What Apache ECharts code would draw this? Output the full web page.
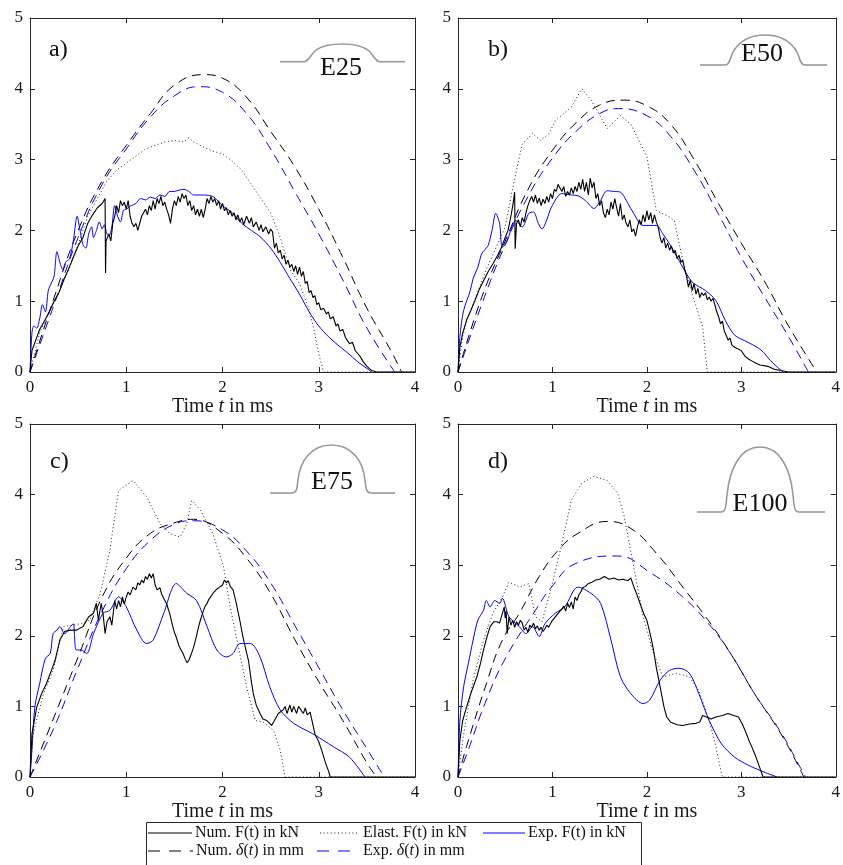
<!DOCTYPE html>
<html><head><meta charset="utf-8">
<script src="https://cdn.jsdelivr.net/npm/echarts@6/dist/echarts.min.js"></script>
<style>html,body{margin:0;padding:0;background:#fff}#c{width:843px;height:865px}</style>
</head><body><div id="c"></div>
<script>
// ---------- DATA (t in ms, value) ----------
const xTicks = [0, 1, 2, 3, 4];
const yTicks = [0, 1, 2, 3, 4, 5];
const panelLabels = ['a)', 'b)', 'c)', 'd)'];
const shapeLabels = ['E25', 'E50', 'E75', 'E100'];
const seriesNames = ['Num. F(t) in kN', 'Elast. F(t) in kN', 'Exp. F(t) in kN', 'Num. δ(t) in mm', 'Exp. δ(t) in mm'];

// Panel a) E25
const aNumF = [[0,0],[0.02,0.3],[0.06,0.45],[0.1,0.6],[0.15,0.72],[0.2,0.85],[0.25,1.0],[0.3,1.12],[0.35,1.3],[0.4,1.45],[0.45,1.62],[0.5,1.78],[0.55,1.9],[0.6,2.1],[0.65,2.22],[0.7,2.32],[0.75,2.38],[0.78,2.45],[0.785,1.4],[0.79,1.85],[0.82,1.95],[0.84,1.85],[0.86,2.1],[0.88,2.2],[0.9,2.35],[0.92,2.25],[0.94,2.42],[0.96,2.35],[0.98,2.4],[1.0,2.3],[1.02,2.42],[1.04,2.2],[1.06,2.1],[1.08,2.05],[1.1,2.1],[1.12,2.0],[1.14,2.02],[1.16,2.2],[1.18,2.25],[1.2,2.3],[1.22,2.22],[1.24,2.35],[1.26,2.28],[1.28,2.42],[1.3,2.3],[1.32,2.45],[1.34,2.38],[1.36,2.48],[1.38,2.35],[1.4,2.4],[1.42,2.3],[1.44,2.22],[1.46,2.1],[1.48,2.3],[1.5,2.42],[1.52,2.35],[1.54,2.48],[1.56,2.4],[1.58,2.52],[1.6,2.45],[1.62,2.5],[1.64,2.35],[1.66,2.42],[1.68,2.28],[1.7,2.35],[1.72,2.22],[1.74,2.3],[1.76,2.2],[1.78,2.3],[1.8,2.18],[1.82,2.3],[1.84,2.45],[1.86,2.38],[1.88,2.48],[1.9,2.4],[1.92,2.45],[1.94,2.35],[1.96,2.42],[1.98,2.3],[2.0,2.38],[2.02,2.28],[2.04,2.32],[2.06,2.22],[2.08,2.28],[2.1,2.2],[2.12,2.25],[2.14,2.15],[2.16,2.22],[2.18,2.12],[2.2,2.18],[2.22,2.08],[2.25,2.2],[2.28,2.1],[2.3,2.18],[2.32,2.05],[2.35,2.12],[2.38,2.0],[2.4,2.08],[2.42,1.98],[2.45,2.05],[2.48,1.95],[2.5,2.02],[2.52,1.98],[2.54,1.75],[2.56,1.82],[2.58,1.68],[2.6,1.72],[2.62,1.6],[2.64,1.65],[2.66,1.52],[2.68,1.58],[2.7,1.48],[2.72,1.52],[2.74,1.42],[2.76,1.5],[2.78,1.38],[2.8,1.48],[2.82,1.35],[2.84,1.42],[2.86,1.25],[2.88,1.28],[2.9,1.12],[2.92,1.15],[2.94,1.05],[2.96,1.08],[2.98,0.95],[3.0,0.98],[3.02,0.88],[3.05,0.9],[3.08,0.82],[3.1,0.85],[3.12,0.75],[3.15,0.78],[3.18,0.65],[3.2,0.68],[3.22,0.58],[3.25,0.6],[3.28,0.48],[3.3,0.5],[3.32,0.4],[3.35,0.42],[3.38,0.3],[3.4,0.32],[3.43,0.22],[3.46,0.15],[3.5,0.08],[3.55,0.02],[3.6,0],[4,0]];
const aElast = [[0,0],[0.1,0.55],[0.2,0.85],[0.3,1.12],[0.4,1.45],[0.5,1.8],[0.6,2.2],[0.7,2.45],[0.8,2.7],[0.9,2.85],[1.0,2.95],[1.1,3.05],[1.2,3.15],[1.3,3.2],[1.4,3.25],[1.5,3.27],[1.6,3.25],[1.65,3.31],[1.7,3.25],[1.8,3.18],[1.9,3.12],[2.0,3.08],[2.1,2.98],[2.2,2.85],[2.3,2.65],[2.4,2.45],[2.5,2.25],[2.6,1.9],[2.7,1.45],[2.8,1.25],[2.9,0.88],[2.95,0.6],[3.0,0.25],[3.05,0],[4,0]];
const aExpF = [[0,0],[0.02,0.55],[0.04,0.65],[0.07,0.62],[0.1,0.75],[0.13,0.95],[0.16,0.85],[0.19,1.15],[0.22,1.25],[0.25,1.35],[0.28,1.7],[0.31,1.55],[0.34,1.45],[0.37,1.55],[0.41,1.6],[0.45,1.85],[0.49,2.2],[0.52,2.0],[0.55,1.8],[0.58,1.75],[0.61,1.95],[0.64,2.05],[0.66,1.9],[0.69,2.0],[0.72,2.12],[0.75,2.02],[0.77,2.08],[0.8,1.95],[0.82,1.92],[0.85,2.05],[0.88,2.35],[0.91,2.2],[0.94,2.12],[0.97,2.28],[1.0,2.3],[1.05,2.35],[1.1,2.38],[1.15,2.45],[1.2,2.43],[1.25,2.47],[1.3,2.45],[1.35,2.5],[1.4,2.48],[1.45,2.55],[1.5,2.55],[1.55,2.57],[1.6,2.58],[1.65,2.55],[1.7,2.5],[1.8,2.5],[1.9,2.48],[1.95,2.42],[2.0,2.35],[2.1,2.25],[2.2,2.1],[2.3,2.0],[2.4,1.9],[2.5,1.75],[2.6,1.55],[2.7,1.32],[2.8,1.1],[2.9,0.85],[3.0,0.65],[3.1,0.5],[3.2,0.38],[3.3,0.27],[3.4,0.15],[3.5,0.05],[3.55,0]];
const aNumD = [[0,0],[0.25,1.05],[0.5,2.0],[0.75,2.7],[1.0,3.2],[1.25,3.65],[1.5,4.05],[1.8,4.2],[2.0,4.15],[2.25,3.88],[2.5,3.4],[2.75,2.9],[3.0,2.3],[3.25,1.62],[3.5,0.9],[3.75,0.3],[3.86,0]];
const aExpD = [[0,0],[0.25,0.95],[0.5,1.9],[0.75,2.65],[1.0,3.15],[1.25,3.6],[1.5,3.9],[1.75,4.03],[2.0,3.95],[2.25,3.65],[2.5,3.15],[2.75,2.55],[3.0,1.95],[3.25,1.3],[3.5,0.62],[3.79,0]];

// Panel b) E50
const bNumF = [[0,0],[0.02,0.35],[0.05,0.55],[0.09,0.73],[0.13,0.85],[0.18,1.01],[0.22,1.15],[0.27,1.29],[0.32,1.42],[0.37,1.53],[0.42,1.65],[0.46,1.76],[0.5,1.9],[0.53,2.0],[0.56,2.2],[0.58,2.35],[0.6,2.54],[0.605,1.74],[0.62,2.1],[0.64,2.15],[0.66,2.05],[0.68,2.18],[0.7,2.12],[0.72,2.25],[0.74,2.35],[0.76,2.42],[0.78,2.48],[0.8,2.4],[0.82,2.5],[0.84,2.38],[0.86,2.46],[0.88,2.35],[0.9,2.44],[0.92,2.38],[0.94,2.48],[0.96,2.4],[0.98,2.52],[1.0,2.45],[1.02,2.58],[1.04,2.55],[1.06,2.65],[1.08,2.6],[1.1,2.55],[1.12,2.62],[1.14,2.48],[1.16,2.55],[1.18,2.5],[1.2,2.6],[1.22,2.52],[1.24,2.62],[1.26,2.55],[1.28,2.68],[1.3,2.58],[1.32,2.72],[1.34,2.55],[1.36,2.68],[1.38,2.5],[1.4,2.74],[1.42,2.6],[1.44,2.68],[1.46,2.45],[1.48,2.52],[1.5,2.35],[1.52,2.42],[1.54,2.25],[1.56,2.18],[1.58,2.3],[1.6,2.22],[1.62,2.4],[1.64,2.3],[1.66,2.45],[1.68,2.32],[1.7,2.2],[1.72,2.38],[1.74,2.15],[1.76,2.22],[1.78,2.1],[1.8,2.05],[1.82,2.15],[1.84,1.98],[1.86,2.02],[1.88,1.92],[1.9,2.05],[1.92,2.15],[1.94,2.08],[1.96,2.22],[1.98,2.12],[2.0,2.28],[2.02,2.15],[2.04,2.25],[2.06,2.1],[2.08,2.22],[2.1,2.12],[2.12,2.05],[2.14,1.9],[2.16,1.82],[2.18,1.9],[2.2,1.75],[2.22,1.82],[2.24,1.72],[2.26,1.78],[2.28,1.68],[2.3,1.72],[2.32,1.6],[2.34,1.65],[2.36,1.55],[2.38,1.58],[2.4,1.45],[2.42,1.35],[2.44,1.2],[2.46,1.3],[2.48,1.15],[2.5,1.25],[2.52,1.1],[2.54,1.18],[2.56,1.05],[2.58,1.12],[2.6,1.08],[2.62,1.12],[2.64,1.02],[2.66,1.06],[2.68,1.0],[2.7,1.04],[2.72,0.95],[2.74,0.85],[2.76,0.78],[2.78,0.68],[2.8,0.72],[2.82,0.58],[2.84,0.52],[2.86,0.45],[2.88,0.48],[2.9,0.38],[2.93,0.35],[2.96,0.33],[3.0,0.3],[3.04,0.22],[3.08,0.18],[3.12,0.15],[3.16,0.12],[3.2,0.1],[3.28,0.08],[3.35,0.04],[3.42,0.02],[3.5,0],[4,0]];
const bElast = [[0,0],[0.05,0.5],[0.1,0.75],[0.2,1.1],[0.3,1.45],[0.4,1.75],[0.5,2.05],[0.54,2.33],[0.58,2.6],[0.68,3.22],[0.79,3.37],[0.87,3.27],[0.96,3.36],[1.03,3.55],[1.2,3.74],[1.31,4.0],[1.41,3.84],[1.58,3.44],[1.72,3.62],[1.83,3.5],[2.0,3.04],[2.1,2.28],[2.24,2.19],[2.29,2.14],[2.38,1.58],[2.48,1.1],[2.59,0.64],[2.64,0],[4,0]];
const bExpF = [[0,0],[0.02,0.5],[0.06,0.87],[0.13,1.15],[0.16,1.32],[0.21,1.48],[0.25,1.67],[0.28,1.72],[0.32,1.79],[0.36,2.0],[0.4,2.24],[0.44,2.1],[0.47,1.76],[0.52,1.85],[0.57,2.05],[0.61,2.14],[0.68,2.05],[0.75,2.24],[0.8,2.26],[0.85,2.1],[0.89,2.02],[0.94,2.15],[0.99,2.33],[1.1,2.52],[1.2,2.5],[1.27,2.49],[1.35,2.42],[1.44,2.31],[1.5,2.4],[1.58,2.56],[1.65,2.55],[1.72,2.54],[1.8,2.38],[1.86,2.24],[1.96,2.07],[2.1,2.07],[2.17,1.95],[2.24,1.81],[2.38,1.48],[2.48,1.27],[2.62,1.15],[2.73,1.01],[2.83,0.73],[2.93,0.52],[3.07,0.42],[3.21,0.31],[3.31,0.16],[3.44,0]];
const bNumD = [[0,0],[0.25,1.05],[0.5,1.85],[0.75,2.6],[1.0,3.13],[1.25,3.52],[1.5,3.77],[1.75,3.84],[2.0,3.76],[2.25,3.5],[2.5,3.0],[2.75,2.4],[3.0,1.82],[3.25,1.27],[3.5,0.65],[3.8,0]];
const bExpD = [[0,0],[0.25,0.95],[0.5,1.8],[0.75,2.5],[1.0,3.02],[1.25,3.4],[1.5,3.65],[1.7,3.72],[2.0,3.62],[2.25,3.33],[2.5,2.85],[2.75,2.25],[3.0,1.62],[3.25,1.05],[3.5,0.5],[3.71,0]];

// Panel c) E75
const cNumF = [[0,0],[0.02,0.61],[0.07,0.99],[0.12,1.18],[0.17,1.32],[0.22,1.5],[0.26,1.65],[0.31,1.94],[0.36,2.06],[0.42,2.08],[0.48,2.08],[0.55,2.13],[0.61,2.27],[0.66,2.32],[0.69,2.46],[0.71,2.22],[0.74,2.46],[0.76,2.3],[0.78,2.03],[0.8,2.2],[0.83,2.27],[0.85,2.15],[0.88,2.5],[0.9,2.38],[0.92,2.5],[0.94,2.41],[0.96,2.55],[0.98,2.45],[1.0,2.55],[1.02,2.62],[1.04,2.58],[1.07,2.69],[1.1,2.65],[1.12,2.75],[1.14,2.72],[1.16,2.79],[1.18,2.75],[1.2,2.84],[1.22,2.8],[1.24,2.88],[1.26,2.82],[1.28,2.88],[1.3,2.72],[1.32,2.65],[1.35,2.68],[1.37,2.58],[1.39,2.6],[1.42,2.45],[1.45,2.32],[1.48,2.15],[1.5,2.05],[1.52,1.98],[1.55,1.85],[1.57,1.8],[1.59,1.75],[1.61,1.68],[1.63,1.62],[1.65,1.65],[1.67,1.72],[1.7,1.84],[1.73,2.0],[1.75,2.12],[1.77,2.22],[1.8,2.35],[1.82,2.42],[1.84,2.46],[1.86,2.52],[1.88,2.5],[1.9,2.6],[1.92,2.58],[1.94,2.66],[1.97,2.69],[2.0,2.72],[2.02,2.79],[2.04,2.75],[2.06,2.78],[2.08,2.7],[2.11,2.65],[2.14,2.48],[2.16,2.35],[2.18,2.22],[2.21,2.0],[2.24,1.82],[2.27,1.65],[2.3,1.35],[2.32,1.18],[2.35,1.02],[2.39,0.9],[2.42,0.82],[2.46,0.8],[2.49,0.76],[2.51,0.73],[2.54,0.8],[2.56,0.85],[2.58,0.9],[2.6,0.88],[2.63,0.95],[2.65,1.0],[2.67,0.9],[2.7,1.02],[2.72,0.92],[2.74,1.0],[2.77,0.9],[2.79,1.0],[2.81,0.99],[2.84,0.9],[2.86,0.98],[2.88,0.88],[2.91,0.92],[2.93,0.8],[2.96,0.61],[3.0,0.5],[3.03,0.38],[3.07,0.2],[3.1,0.09],[3.12,0],[4,0]];
const cElast = [[0,0],[0.03,0.6],[0.14,1.18],[0.24,1.51],[0.33,2.03],[0.35,2.13],[0.52,2.17],[0.62,2.22],[0.73,2.6],[0.83,3.21],[0.92,4.06],[1.07,4.2],[1.21,3.97],[1.35,3.59],[1.45,3.45],[1.56,3.4],[1.63,3.59],[1.68,3.92],[1.77,3.78],[1.9,3.45],[2.01,2.98],[2.08,2.41],[2.15,1.94],[2.25,1.28],[2.34,0.8],[2.42,0.78],[2.53,0.66],[2.6,0.38],[2.65,0],[4,0]];
const cExpF = [[0,0],[0.02,0.38],[0.05,0.99],[0.1,1.32],[0.16,1.68],[0.21,1.75],[0.24,2.03],[0.28,2.08],[0.31,2.13],[0.36,2.03],[0.42,2.13],[0.45,2.17],[0.48,1.8],[0.53,1.8],[0.59,1.75],[0.66,2.03],[0.76,2.32],[0.83,2.36],[0.92,2.55],[1.0,2.41],[1.11,2.08],[1.21,1.89],[1.28,1.94],[1.39,2.32],[1.52,2.74],[1.63,2.6],[1.73,2.5],[1.84,2.13],[1.94,1.8],[2.04,1.7],[2.11,1.75],[2.18,1.89],[2.29,1.89],[2.39,1.7],[2.49,1.28],[2.6,0.95],[2.74,0.76],[2.94,0.61],[3.15,0.43],[3.32,0.28],[3.48,0]];
const cNumD = [[0,0],[0.25,0.85],[0.5,1.7],[0.75,2.55],[1.0,3.1],[1.25,3.45],[1.5,3.6],[1.7,3.65],[2.0,3.45],[2.25,3.1],[2.5,2.6],[2.75,1.95],[3.0,1.35],[3.25,0.8],[3.5,0.2],[3.6,0]];
const cExpD = [[0,0],[0.25,0.7],[0.5,1.55],[0.75,2.35],[1.0,2.95],[1.25,3.35],[1.5,3.58],[1.7,3.63],[2.0,3.5],[2.25,3.2],[2.5,2.75],[2.75,2.15],[3.0,1.55],[3.25,0.95],[3.5,0.4],[3.68,0]];

// Panel d) E100
const dNumF = [[0,0],[0.02,0.52],[0.05,0.8],[0.09,0.99],[0.14,1.2],[0.2,1.42],[0.24,1.62],[0.27,1.8],[0.31,2.0],[0.34,2.13],[0.38,2.2],[0.41,2.2],[0.44,2.18],[0.46,2.2],[0.49,2.41],[0.5,2.25],[0.51,2.35],[0.52,2.03],[0.54,2.27],[0.56,2.15],[0.58,2.22],[0.6,2.12],[0.62,2.2],[0.64,2.15],[0.66,2.22],[0.68,2.18],[0.7,2.08],[0.72,2.12],[0.74,2.05],[0.76,2.15],[0.78,2.12],[0.8,2.18],[0.82,2.1],[0.84,2.14],[0.86,2.08],[0.88,2.12],[0.9,2.06],[0.92,2.1],[0.94,2.15],[0.96,2.12],[0.99,2.2],[1.02,2.25],[1.05,2.3],[1.08,2.35],[1.1,2.38],[1.12,2.42],[1.14,2.35],[1.16,2.46],[1.18,2.4],[1.2,2.48],[1.22,2.38],[1.24,2.55],[1.26,2.5],[1.28,2.58],[1.3,2.62],[1.32,2.68],[1.35,2.7],[1.38,2.74],[1.42,2.76],[1.46,2.79],[1.5,2.8],[1.55,2.84],[1.6,2.8],[1.65,2.82],[1.7,2.79],[1.75,2.8],[1.8,2.78],[1.83,2.82],[1.86,2.7],[1.89,2.6],[1.93,2.45],[1.97,2.3],[2.0,2.22],[2.04,2.0],[2.07,1.8],[2.1,1.55],[2.14,1.28],[2.18,1.0],[2.21,0.85],[2.25,0.78],[2.28,0.76],[2.32,0.74],[2.38,0.73],[2.45,0.75],[2.52,0.76],[2.56,0.78],[2.59,0.87],[2.63,0.85],[2.68,0.82],[2.73,0.85],[2.8,0.87],[2.86,0.9],[2.92,0.87],[2.97,0.85],[3.01,0.75],[3.04,0.66],[3.08,0.52],[3.11,0.43],[3.15,0.3],[3.18,0.19],[3.23,0],[4,0]];
const dElast = [[0,0],[0.06,0.61],[0.16,1.37],[0.27,1.94],[0.37,2.32],[0.47,2.55],[0.54,2.76],[0.65,2.69],[0.75,2.74],[0.82,2.27],[0.89,2.2],[0.99,2.69],[1.1,3.31],[1.2,3.92],[1.31,4.16],[1.44,4.26],[1.58,4.2],[1.69,4.02],[1.76,3.69],[1.86,2.98],[1.96,2.27],[2.07,1.75],[2.17,1.42],[2.31,1.47],[2.45,1.42],[2.55,1.23],[2.66,0.8],[2.73,0.43],[2.79,0.05],[2.8,0],[4,0]];
const dExpF = [[0,0],[0.02,0.8],[0.06,1.28],[0.11,1.61],[0.16,1.94],[0.21,2.22],[0.27,2.36],[0.3,2.5],[0.34,2.41],[0.39,2.5],[0.44,2.46],[0.47,2.53],[0.54,2.27],[0.65,2.13],[0.72,2.03],[0.79,2.13],[0.86,1.99],[0.92,2.17],[1.03,2.32],[1.13,2.41],[1.27,2.69],[1.41,2.6],[1.51,2.46],[1.62,1.94],[1.72,1.42],[1.83,1.18],[1.96,1.04],[2.03,1.09],[2.14,1.37],[2.24,1.51],[2.34,1.54],[2.45,1.47],[2.55,1.18],[2.66,0.8],[2.79,0.47],[2.93,0.28],[3.07,0.17],[3.24,0.07],[3.38,0]];
const dNumD = [[0,0],[0.09,0.43],[0.3,1.32],[0.47,1.94],[0.65,2.32],[0.86,2.84],[1.06,3.21],[1.27,3.45],[1.58,3.62],[1.83,3.52],[2.1,3.17],[2.38,2.69],[2.66,2.2],[2.9,1.72],[3.14,1.18],[3.42,0.61],[3.63,0.09],[3.66,0]];
const dExpD = [[0,0],[0.1,0.35],[0.3,1.09],[0.51,1.7],[0.82,2.36],[0.99,2.69],[1.24,3.02],[1.69,3.13],[2.03,2.9],[2.38,2.55],[2.66,2.16],[2.9,1.72],[3.14,1.18],[3.42,0.63],[3.63,0.12],[3.68,0]];

const panels = [
  [aNumF, aElast, aExpF, aNumD, aExpD],
  [bNumF, bElast, bExpF, bNumD, bExpD],
  [cNumF, cElast, cExpF, cNumD, cExpD],
  [dNumF, dElast, dExpF, dNumD, dExpD]
];

// ---------- STYLE ----------
const FONT = 'Liberation Serif';
const AX = '#262626';
const styles = [
  {color: '#000', type: 'solid', width: 1.1},
  {color: '#222', type: [1, 2.6], width: 1},
  {color: '#0000ff', type: 'solid', width: 1},
  {color: '#000', type: [9, 6], width: 1},
  {color: '#0000ff', type: [9, 6], width: 1}
];
const smoothing = [false, false, 0.3, 0.45, 0.45];
const gridBoxes = [
  {left: 30, top: 18, width: 385, height: 354},
  {left: 458, top: 18, width: 385, height: 354},
  {left: 30, top: 424, width: 385, height: 353},
  {left: 458, top: 424, width: 385, height: 353}
];

const xAxes = [], yAxes = [], series = [];
gridBoxes.forEach((g, i) => {
  const common = {gridIndex: i, type: 'value', min: xTicks[0], max: xTicks[xTicks.length - 1], interval: 1,
    splitLine: {show: false}, axisLine: {show: true, onZero: false, lineStyle: {color: AX, width: 1}},
    axisTick: {show: true, inside: true, length: 5, lineStyle: {color: AX}}};
  xAxes.push(Object.assign({}, common, {position: 'bottom',
    axisLabel: {show: true, margin: 7, fontFamily: FONT, fontSize: 17, color: '#1a1a1a'},
    name: 'Time {i|t} in ms', nameLocation: 'middle', nameGap: 15,
    nameTextStyle: {fontFamily: FONT, fontSize: 20, color: '#1a1a1a',
      rich: {i: {fontFamily: FONT, fontSize: 20, fontStyle: 'italic', color: '#1a1a1a'}}}}));
  xAxes.push(Object.assign({}, common, {position: 'top', axisLabel: {show: false}}));
  const ycommon = {gridIndex: i, type: 'value', min: yTicks[0], max: yTicks[yTicks.length - 1], interval: 1,
    splitLine: {show: false}, axisLine: {show: true, onZero: false, lineStyle: {color: AX, width: 1}},
    axisTick: {show: true, inside: true, length: 5, lineStyle: {color: AX}}};
  yAxes.push(Object.assign({}, ycommon, {position: 'left',
    axisLabel: {show: true, margin: 7, fontFamily: FONT, fontSize: 17, color: '#1a1a1a'}}));
  yAxes.push(Object.assign({}, ycommon, {position: 'right', axisLabel: {show: false}}));
  panels[i].forEach((data, k) => {
    series.push({
      type: 'line', name: seriesNames[k], xAxisIndex: 2 * i, yAxisIndex: 2 * i,
      data: data, symbol: 'none', showSymbol: false, clip: true, silent: true,
      smooth: smoothing[k], lineStyle: styles[k], z: 10 - k
    });
  });
});

// decorative specimen shapes (lines + cubic curves)
const bumpPaths = [
  'M280,61.7 L304,61.7 C309,61.7 310,55 316,50 C324,44.5 334,44 342,44 C350,44 360,44.5 368,50 C374,55 375,61.7 380,61.7 L405,61.7',
  'M700,65 L725,65 C730,65 730,58 733,52 C740,40 752,35 765,35 C778,35 790,40 797,52 C800,58 800,65 805,65 L827,65',
  'M270,493 L292,493 C297,493 297,488 298,480 C300,460 312,445 331.5,445 C351,445 363,460 365,480 C366,488 366,493 371,493 L395,493',
  'M697,512 L721,512 C726,512 726,505 727,495 C730,465 742,447 760,447 C778,447 790,465 793,495 C794,505 794,512 799,512 L825,512'
];
function pathToElements(p) {
  const els = [];
  const re = /([MLC])([^MLC]*)/g;
  let m, cx = 0, cy = 0;
  const st = {stroke: '#999', lineWidth: 1.6, fill: null};
  while ((m = re.exec(p)) !== null) {
    const nums = m[2].trim().split(/[\s,]+/).filter(s => s.length).map(Number);
    if (m[1] === 'M') { cx = nums[0]; cy = nums[1]; }
    else if (m[1] === 'L') {
      els.push({type: 'line', z: 50, shape: {x1: cx, y1: cy, x2: nums[0], y2: nums[1]}, style: st});
      cx = nums[0]; cy = nums[1];
    } else {
      els.push({type: 'bezierCurve', z: 50, shape: {x1: cx, y1: cy, cpx1: nums[0], cpy1: nums[1], cpx2: nums[2], cpy2: nums[3], x2: nums[4], y2: nums[5]}, style: st});
      cx = nums[4]; cy = nums[5];
    }
  }
  return els;
}
const shapeLabelPos = [[341, 68], [762, 54], [332, 482], [760, 504]];
const panelLabelPos = [[49, 50], [488, 50], [50, 462], [488, 462]];

const graphic = [];
bumpPaths.forEach((p, i) => {
  pathToElements(p).forEach(e => graphic.push(e));
  graphic.push({type: 'text', x: shapeLabelPos[i][0], y: shapeLabelPos[i][1], z: 51,
    style: {text: shapeLabels[i], font: '26px "Liberation Serif"', fill: '#111', align: 'center', verticalAlign: 'middle'}});
  graphic.push({type: 'text', x: panelLabelPos[i][0], y: panelLabelPos[i][1], z: 51,
    style: {text: panelLabels[i], font: '24px "Liberation Serif"', fill: '#111', align: 'left', verticalAlign: 'middle'}});
});

// legend (drawn)
const LY1 = 833, LY2 = 851;
graphic.push({type: 'rect', z: 60, shape: {x: 146.5, y: 822.5, width: 495, height: 60}, style: {fill: '#fff', stroke: AX, lineWidth: 1}});
const legItems = [
  {x1: 148, x2: 192, y: LY1, st: styles[0], tx: 195, text: seriesNames[0]},
  {x1: 320, x2: 358, y: LY1, st: styles[1], tx: 363, text: seriesNames[1]},
  {x1: 483, x2: 525, y: LY1, st: styles[2], tx: 528, text: seriesNames[2]},
  {x1: 148, x2: 193, y: LY2, st: {color: '#000', type: [12, 9], width: 1}, tx: 196, text: 'Num. {i|δ}({i|t}) in mm'},
  {x1: 317, x2: 359, y: LY2, st: {color: '#0000ff', type: [12, 9], width: 1}, tx: 363, text: 'Exp. {i|δ}({i|t}) in mm'}
];
legItems.forEach(it => {
  graphic.push({type: 'line', z: 61, shape: {x1: it.x1, y1: it.y, x2: it.x2, y2: it.y},
    style: {stroke: it.st.color, lineWidth: it.st.width, lineDash: Array.isArray(it.st.type) ? it.st.type : null}});
  graphic.push({type: 'text', x: it.tx, y: it.y, z: 61,
    style: {text: it.text, font: '16px "Liberation Serif"', fill: '#111', align: 'left', verticalAlign: 'middle',
      rich: {i: {font: 'italic 16px "Liberation Serif"', fill: '#111'}}}});
});

const chart = echarts.init(document.getElementById('c'), null, {renderer: 'canvas'});
chart.setOption({
  animation: false,
  backgroundColor: '#fff',
  grid: gridBoxes.map(g => Object.assign({containLabel: false}, g)),
  xAxis: xAxes,
  yAxis: yAxes,
  series: series,
  graphic: graphic
});
</script>
</body></html>
